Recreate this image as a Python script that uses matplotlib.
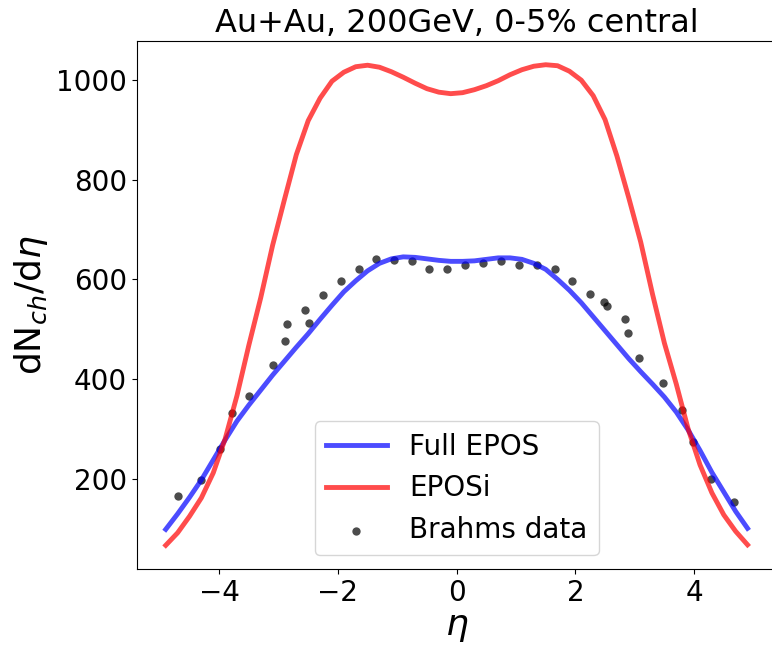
import numpy as np
import matplotlib.pyplot as plt

# pseudorapidity grid for the model curves
eta = np.round(np.arange(-4.9, 4.95, 0.2), 2)

# Full EPOS
full_epos = [99, 130, 163, 198, 238, 278, 316, 348, 378, 408,
             436, 464, 491, 520, 548, 575, 597, 617, 632, 641,
             645, 644, 641, 638, 636, 636, 637, 640, 643, 643,
             640, 632, 620, 600, 578, 553, 525, 497, 469, 441,
             415, 390, 364, 334, 298, 257, 213, 174, 135, 101]

# EPOSi
eposi = [67, 92, 125, 162, 212, 280, 367, 468, 563, 668,
         760, 850, 918, 963, 997, 1015, 1026, 1029, 1025, 1016,
         1005, 993, 982, 975, 972, 974, 980, 988, 998, 1010,
         1020, 1027, 1030, 1028, 1017, 999, 968, 920, 847, 763,
         675, 570, 472, 390, 300, 228, 172, 128, 95, 68]

# Brahms data
brahms_eta = [-4.69, -4.30, -3.99, -3.79, -3.50, -3.09, -2.89, -2.85, -2.55, -2.49,
              -2.25, -1.95, -1.65, -1.36, -1.06, -0.76, -0.46, -0.16,
              0.14, 0.44, 0.74, 1.05, 1.35, 1.65, 1.94, 2.24, 2.48, 2.53,
              2.83, 2.89, 3.08, 3.48, 3.79, 3.98, 4.29, 4.67]
brahms_dn = [166, 198, 259, 332, 366, 429, 477, 511, 539, 512,
             568, 597, 621, 641, 639, 637, 620, 620,
             628, 632, 637, 629, 628, 620, 597, 570, 555, 547,
             521, 492, 443, 393, 338, 274, 199, 154]

fig = plt.figure(figsize=(7.72, 6.45), dpi=100)
ax = fig.add_axes([0.177, 0.1173, 0.829, 0.8196])

ax.plot(eta, full_epos, color='blue', alpha=0.7, lw=3.5, label='Full EPOS')
ax.plot(eta, eposi, color='red', alpha=0.7, lw=3.5, label='EPOSi')
ax.scatter(brahms_eta, brahms_dn, color='k', alpha=0.7, s=36, linewidths=0,
           label='Brahms data')

ax.set_title('Au+Au, 200GeV, 0-5% central', fontsize=23)
ax.set_xlabel(r'$\eta$', fontsize=26, labelpad=2)
ax.set_ylabel(r'dN$_{ch}$/d$\eta$', fontsize=26)
ax.tick_params(labelsize=20)
ax.legend(loc='lower center', fontsize=20, handlelength=2.2)

fig.savefig('out.png', dpi=100)
